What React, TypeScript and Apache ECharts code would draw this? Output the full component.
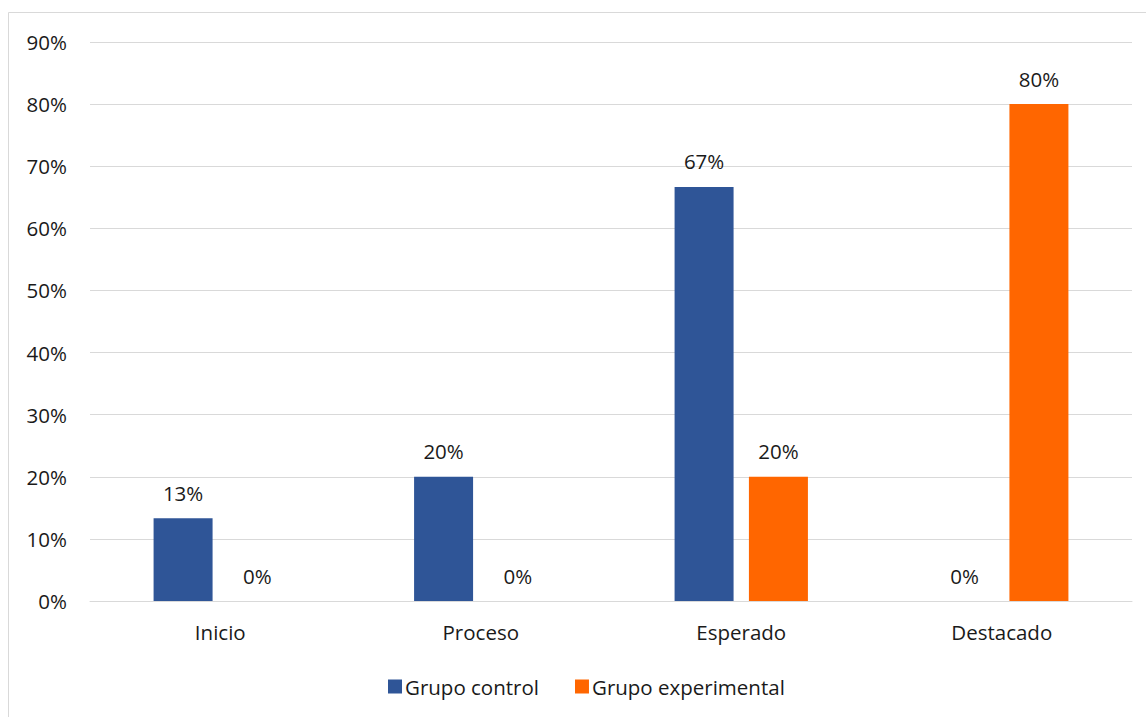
import React, { useEffect, useRef } from "react";
import * as echarts from "echarts";

const categories = ["Inicio", "Proceso", "Esperado", "Destacado"];
const grupoControl = [13.33, 20, 66.67, 0];
const grupoExperimental = [0, 0, 20, 80];
const seriesNames = ["Grupo control", "Grupo experimental"];

const FONT = "'Open Sans', 'Noto Sans', sans-serif";
const FS = 20.5;

export default function App() {
  const ref = useRef<HTMLDivElement>(null);
  useEffect(() => {
    if (!ref.current) return;
    const chart = echarts.init(ref.current, null, { renderer: "svg" });
    const label = {
      show: true,
      position: "top",
      distance: 15,
      color: "#1a1a1a",
      fontSize: FS,
      fontFamily: FONT,
      formatter: (p: any) => Math.round(p.value) + "%",
    };
    chart.setOption({
      animation: false,
      backgroundColor: "#ffffff",
      graphic: [
        {
          type: "rect",
          shape: { x: 8.5, y: 12.5, width: 1160, height: 720 },
          style: { fill: "none", stroke: "#d9d9d9", lineWidth: 1 },
          silent: true,
        },
      ],
      grid: { left: 90, right: 14, top: 42, bottom: 116, containLabel: false },
      legend: {
        data: seriesNames,
        top: 671,
        left: 383,
        itemWidth: 14,
        itemHeight: 14,
        itemGap: 36,
        icon: "rect",
        textStyle: { fontSize: FS, fontFamily: FONT, color: "#1a1a1a", padding: [0, 0, 0, -2] },
      },
      xAxis: {
        type: "category",
        data: categories,
        axisLine: { show: true, lineStyle: { color: "#d9d9d9", width: 1 } },
        axisTick: { show: false },
        axisLabel: { fontSize: FS, fontFamily: FONT, color: "#1a1a1a", margin: 20 },
      },
      yAxis: {
        type: "value",
        min: 0,
        max: 90,
        interval: 10,
        axisLine: { show: false },
        axisTick: { show: false },
        splitLine: { lineStyle: { color: "#d9d9d9", width: 1 } },
        axisLabel: {
          fontSize: FS,
          fontFamily: FONT,
          color: "#1a1a1a",
          margin: 23,
          formatter: (v: number) => v + "%",
        },
      },
      series: [
        {
          name: seriesNames[0],
          type: "bar",
          data: grupoControl,
          barWidth: 59,
          barGap: "26%",
          itemStyle: { color: "#2F5597" },
          label,
        },
        {
          name: seriesNames[1],
          type: "bar",
          data: grupoExperimental,
          barWidth: 59,
          barGap: "26%",
          itemStyle: { color: "#FF6600" },
          label,
        },
      ],
    });
    return () => chart.dispose();
  }, []);
  return (
    <div
      ref={ref}
      style={{ position: "fixed", left: 0, top: 0, width: 1146, height: 717 }}
    />
  );
}
